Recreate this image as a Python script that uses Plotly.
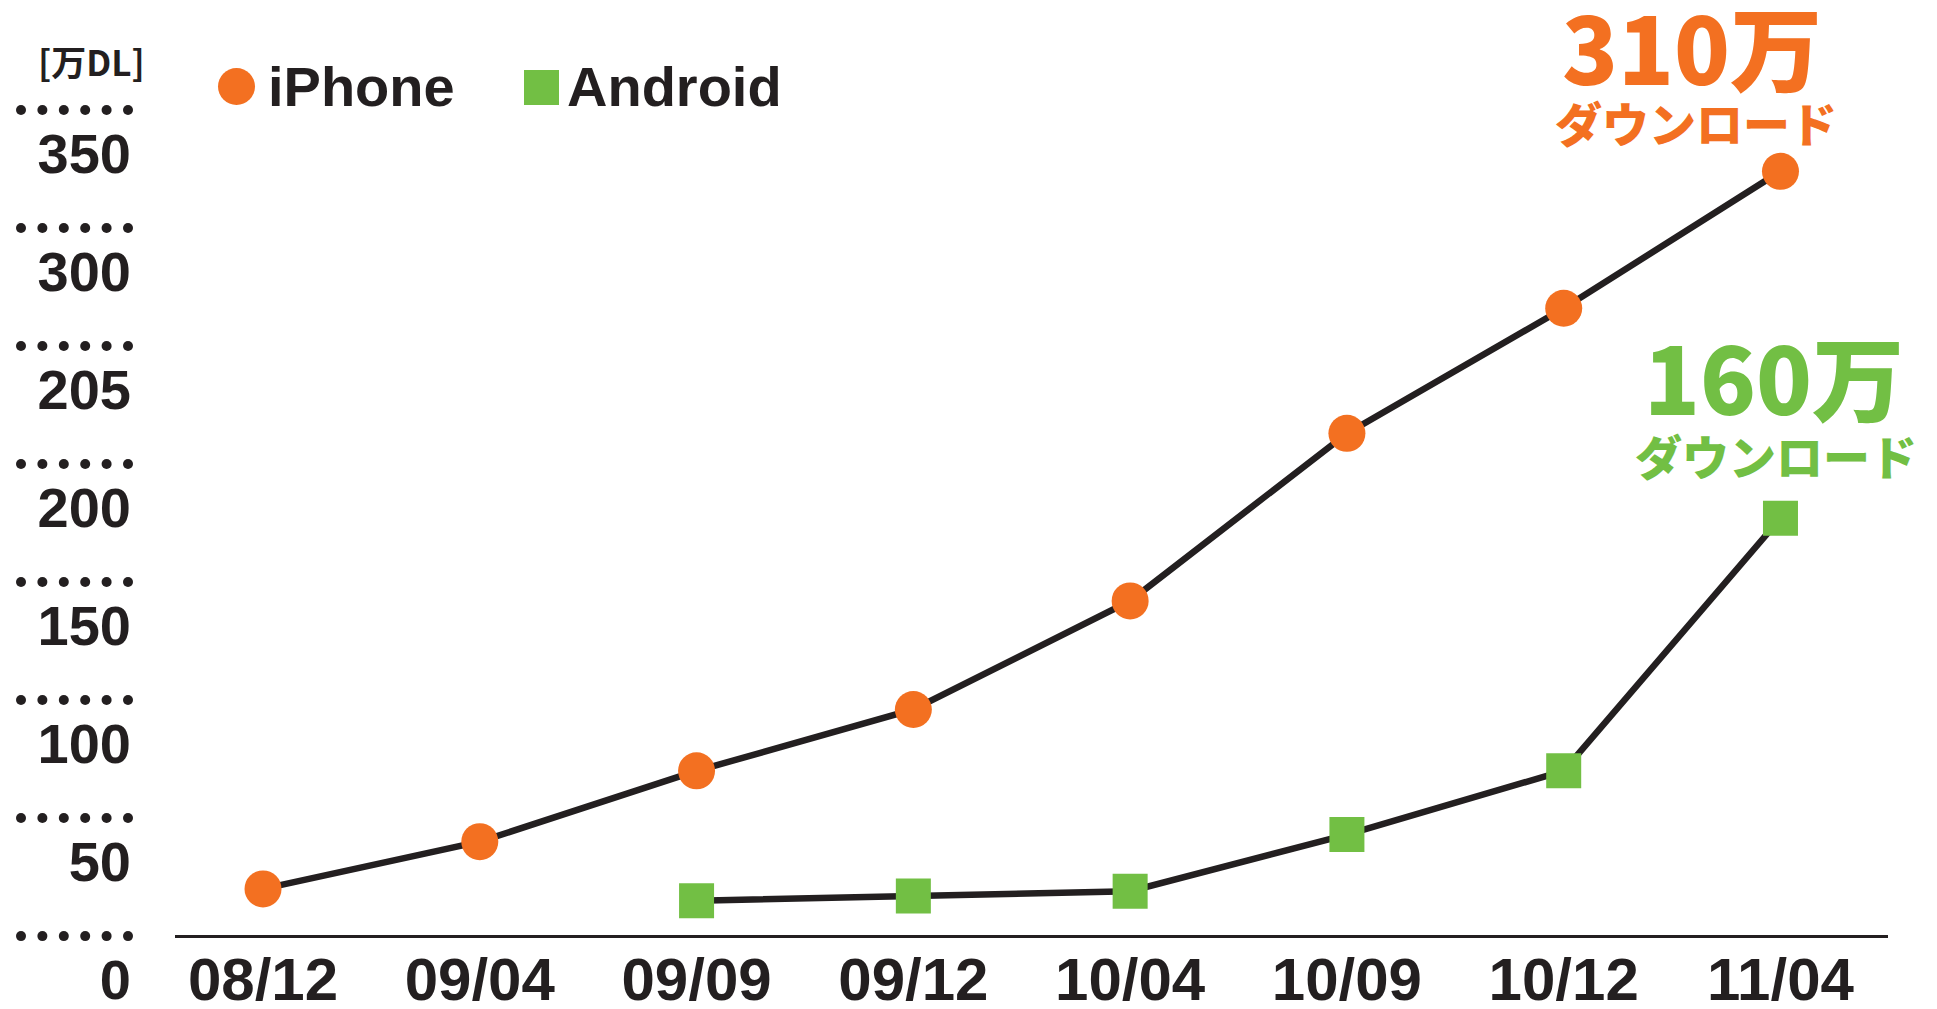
import plotly.graph_objects as go

# ダウンロード数 (万DL) - 図から読み取った値
periods = ["08/12", "09/04", "09/09", "09/12", "10/04", "10/09", "10/12", "11/04"]
iphone = [20, 40, 70, 96, 142, 213, 266, 324]
android = [None, None, 15, 17, 19, 43, 70, 177]

# 左側の点線ガイドと目盛りラベル (元図のまま "205")
grid_rows = [0, 50, 100, 150, 200, 250, 300, 350]
y_tick_text = ["0", "50", "100", "150", "200", "205", "300", "350"]
dot_cols = [0, 1, 2, 3, 4, 5]

# page geometry: the html body keeps its default 8px margin,
# so the figure is shrunk by 16px to fill the 1937x1009 window exactly
OFF = 8
W, H = 1937 - 2 * OFF, 1009 - 2 * OFF
M_R = 41
PW = W - M_R

INK = "#231F20"
ORANGE = "#F37021"
GREEN = "#72BF44"
LABEL_DROP = 18.5          # y labels sit below their dotted row
Y_RANGE = [-27.5, 393.2]
DOT_X0, DOT_STEP = 21, 21.4  # left dotted guides (page px)


def px(x):
    # page pixel -> paper fraction
    return (x - OFF) / PW


def py(y):
    return 1 - (y - OFF) / H


fig = go.Figure()

# 1. iPhone
fig.add_trace(go.Scatter(
    x=periods, y=iphone, mode="lines+markers", name="iPhone",
    line=dict(color=INK, width=6.5),
    marker=dict(symbol="circle", size=37, color=ORANGE),
    xaxis="x", yaxis="y"
))

# 2. Android
fig.add_trace(go.Scatter(
    x=periods, y=android, mode="lines+markers", name="Android",
    line=dict(color=INK, width=6.5),
    marker=dict(symbol="square", size=35, color=GREEN),
    connectgaps=False, xaxis="x", yaxis="y"
))

# 3. 点線ガイド (左端)
dot_x = [c for r in grid_rows for c in dot_cols]
dot_y = [r for r in grid_rows for c in dot_cols]
fig.add_trace(go.Scatter(
    x=dot_x, y=dot_y, mode="markers",
    marker=dict(size=10, color=INK),
    xaxis="x2", yaxis="y2", hoverinfo="skip"
))

# 4. 凡例 (手描き)
fig.add_shape(type="circle", xref="paper", yref="paper",
              xsizemode="pixel", ysizemode="pixel",
              xanchor=px(236.5), yanchor=py(86.5),
              x0=-18.5, x1=18.5, y0=-18.5, y1=18.5,
              fillcolor=ORANGE, line=dict(width=0))
fig.add_shape(type="rect", xref="paper", yref="paper",
              xsizemode="pixel", ysizemode="pixel",
              xanchor=px(541.5), yanchor=py(87.5),
              x0=-17.5, x1=17.5, y0=-17.5, y1=17.5,
              fillcolor=GREEN, line=dict(width=0))

legend_font = dict(family="Liberation Sans", size=56, color=INK, weight="bold")
big = dict(family="Noto Sans CJK JP", size=92, weight=900)
small = dict(family="Noto Sans CJK JP", size=47, weight=900)
annotations = [
    dict(text="iPhone", x=px(266), y=py(86), xanchor="left", yanchor="middle", font=legend_font),
    dict(text="Android", x=px(565), y=py(86), xanchor="left", yanchor="middle", font=legend_font),
    dict(text="[万DL]", x=px(91), y=py(60), xanchor="center", yanchor="middle",
         font=dict(family="Noto Sans CJK JP", size=35, color=INK, weight="bold")),
    dict(text="310万", x=px(1692), y=py(44), xanchor="center", yanchor="middle",
         font=dict(big, color=ORANGE)),
    dict(text="ダウンロード", x=px(1696), y=py(121), xanchor="center", yanchor="middle",
         font=dict(small, color=ORANGE)),
    dict(text="160万", x=px(1774), y=py(374), xanchor="center", yanchor="middle",
         font=dict(big, color=GREEN)),
    dict(text="ダウンロード", x=px(1776), y=py(454), xanchor="center", yanchor="middle",
         font=dict(small, color=GREEN)),
]
for a in annotations:
    a.update(xref="paper", yref="paper", showarrow=False)

fig.update_layout(
    width=W, height=H,
    margin=dict(l=0, r=M_R, t=0, b=0, autoexpand=False),
    paper_bgcolor="white", plot_bgcolor="white",
    showlegend=False,
    annotations=annotations,
    xaxis=dict(
        domain=[px(175), 1], anchor="y", type="category",
        range=[-0.406, 7.496], automargin=False,
        showgrid=False, zeroline=False, showline=False,
        ticks="", ticklabelposition="inside", ticklabelstandoff=-14,
        ticklabeloverflow="allow",
        tickfont=dict(family="Liberation Sans", size=60, color=INK, weight="bold"),
    ),
    yaxis=dict(
        range=Y_RANGE, anchor="x", automargin=False,
        tickvals=[v - LABEL_DROP for v in grid_rows], ticktext=y_tick_text,
        showgrid=False, showline=False,
        zeroline=True, zerolinecolor=INK, zerolinewidth=3,
        ticks="", ticklabelstandoff=43, ticklabeloverflow="allow",
        tickfont=dict(family="Liberation Sans", size=56, color=INK, weight="bold"),
    ),
    xaxis2=dict(
        domain=[0, px(148)], anchor="y2", automargin=False,
        range=[(OFF - DOT_X0) / DOT_STEP, (148 - DOT_X0) / DOT_STEP],
        visible=False,
    ),
    yaxis2=dict(
        range=Y_RANGE, anchor="x2", overlaying="y", visible=False, automargin=False,
    ),
)

fig.write_html("out.html")
